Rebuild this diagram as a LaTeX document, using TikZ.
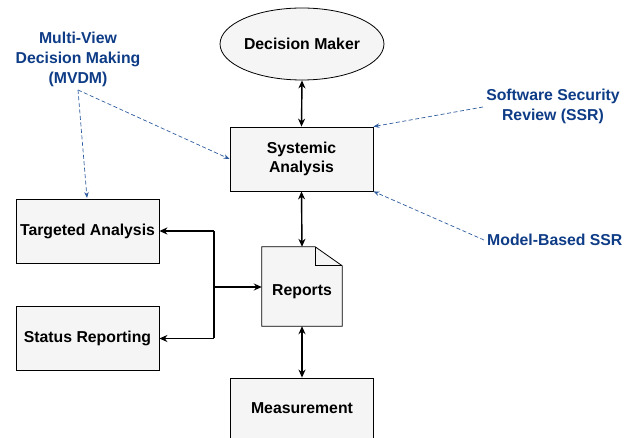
\documentclass[tikz,border=0pt]{standalone}
\usepackage{fontspec}
\setmainfont{Liberation Sans}
\usetikzlibrary{arrows.meta,shapes.geometric}
\definecolor{lblue}{HTML}{0E3C86}
\definecolor{dblue}{HTML}{2E5C9E}
\definecolor{boxfill}{HTML}{F5F5F5}
\tikzset{
  box/.style={draw=black, fill=boxfill, line width=0.8pt, minimum width=143pt, minimum height=64pt, inner sep=0pt, font=\fontsize{15.8}{19.5}\selectfont\bfseries, align=center},
  lbl/.style={text=lblue, font=\fontsize{15.8}{20}\selectfont\bfseries, align=center, inner sep=0pt},
  conn/.style={line width=1.4pt, {Stealth[length=8pt,width=7pt]}-{Stealth[length=8pt,width=7pt]}},
  oneway/.style={line width=1.4pt, -{Stealth[length=8pt,width=7pt]}},
  plain/.style={line width=1.4pt},
  dasharrow/.style={draw=dblue, line width=0.7pt, dash pattern=on 4pt off 2.5pt, -{Stealth[length=6pt,width=4.5pt]}}
}
\begin{document}
\begin{tikzpicture}[x=1pt,y=-1pt]
\clip (0,0) rectangle (632,438);
\fill[white] (0,0) rectangle (632,438);
% nodes
\node[ellipse, draw=black, fill=boxfill, line width=0.8pt, minimum width=150pt, minimum height=72pt, inner sep=0pt, font=\fontsize{15.8}{19.5}\selectfont\bfseries] (dm) at (302,44) {Decision Maker};
\node[box] (sa) at (301.5,159) {Systemic\\Analysis};
\node[box] (ta) at (87.5,231) {Targeted Analysis};
\node[box] (sr) at (87.5,338.5) {Status Reporting};
\node[box, minimum height=60pt] (me) at (302,408) {Measurement};
\node[draw=none, minimum width=80pt, minimum height=79pt, inner sep=0pt] (rep) at (302,286.5) {};
\fill[boxfill, draw=black, line width=0.8pt] (rep.north west) -- ([xshift=-27pt]rep.north east) -- ([yshift=-19pt]rep.north east) -- (rep.south east) -- (rep.south west) -- cycle;
\draw[black, line width=0.8pt] ([xshift=-27pt]rep.north east) -- ([xshift=-27pt,yshift=-19pt]rep.north east) -- ([yshift=-19pt]rep.north east);
\node[font=\fontsize{15.8}{19.5}\selectfont\bfseries] (reptxt) at (302,292) {Reports};
% labels
\node[lbl] (mvdm) at (78,59) {Multi-View\\Decision Making\\(MVDM)};
\node[lbl] (ssr) at (553,106) {Software Security\\Review (SSR)};
\node[lbl, anchor=west] (mbssr) at (487,240) {Model-Based SSR};
% solid connectors
\draw[conn] (dm.south) -- (sa.north);
\draw[conn] (sa.south) -- (rep.north);
\draw[conn] (rep.south) -- (me.north);
\coordinate (bt) at (214,231);
\coordinate (bb) at (214,338.5);
\coordinate (bm) at (214,287);
\draw[plain] (bt) -- (bb);
\draw[oneway] (bt) -- (ta.east);
\draw[oneway] (bb) -- (sr.east);
\draw[oneway] (bm) -- (bm -| rep.west);
% dashed connectors
\coordinate (mv) at (78,90);
\draw[dasharrow] (mv) -- (87,198);
\draw[dasharrow] (mv) -- (sa.west);
\coordinate (sp) at (483,107);
\draw[dasharrow] (sp) -- (sa.north east);
\coordinate (mp) at (484,240);
\draw[dasharrow] (mp) -- (sa.south east);
\end{tikzpicture}
\end{document}
